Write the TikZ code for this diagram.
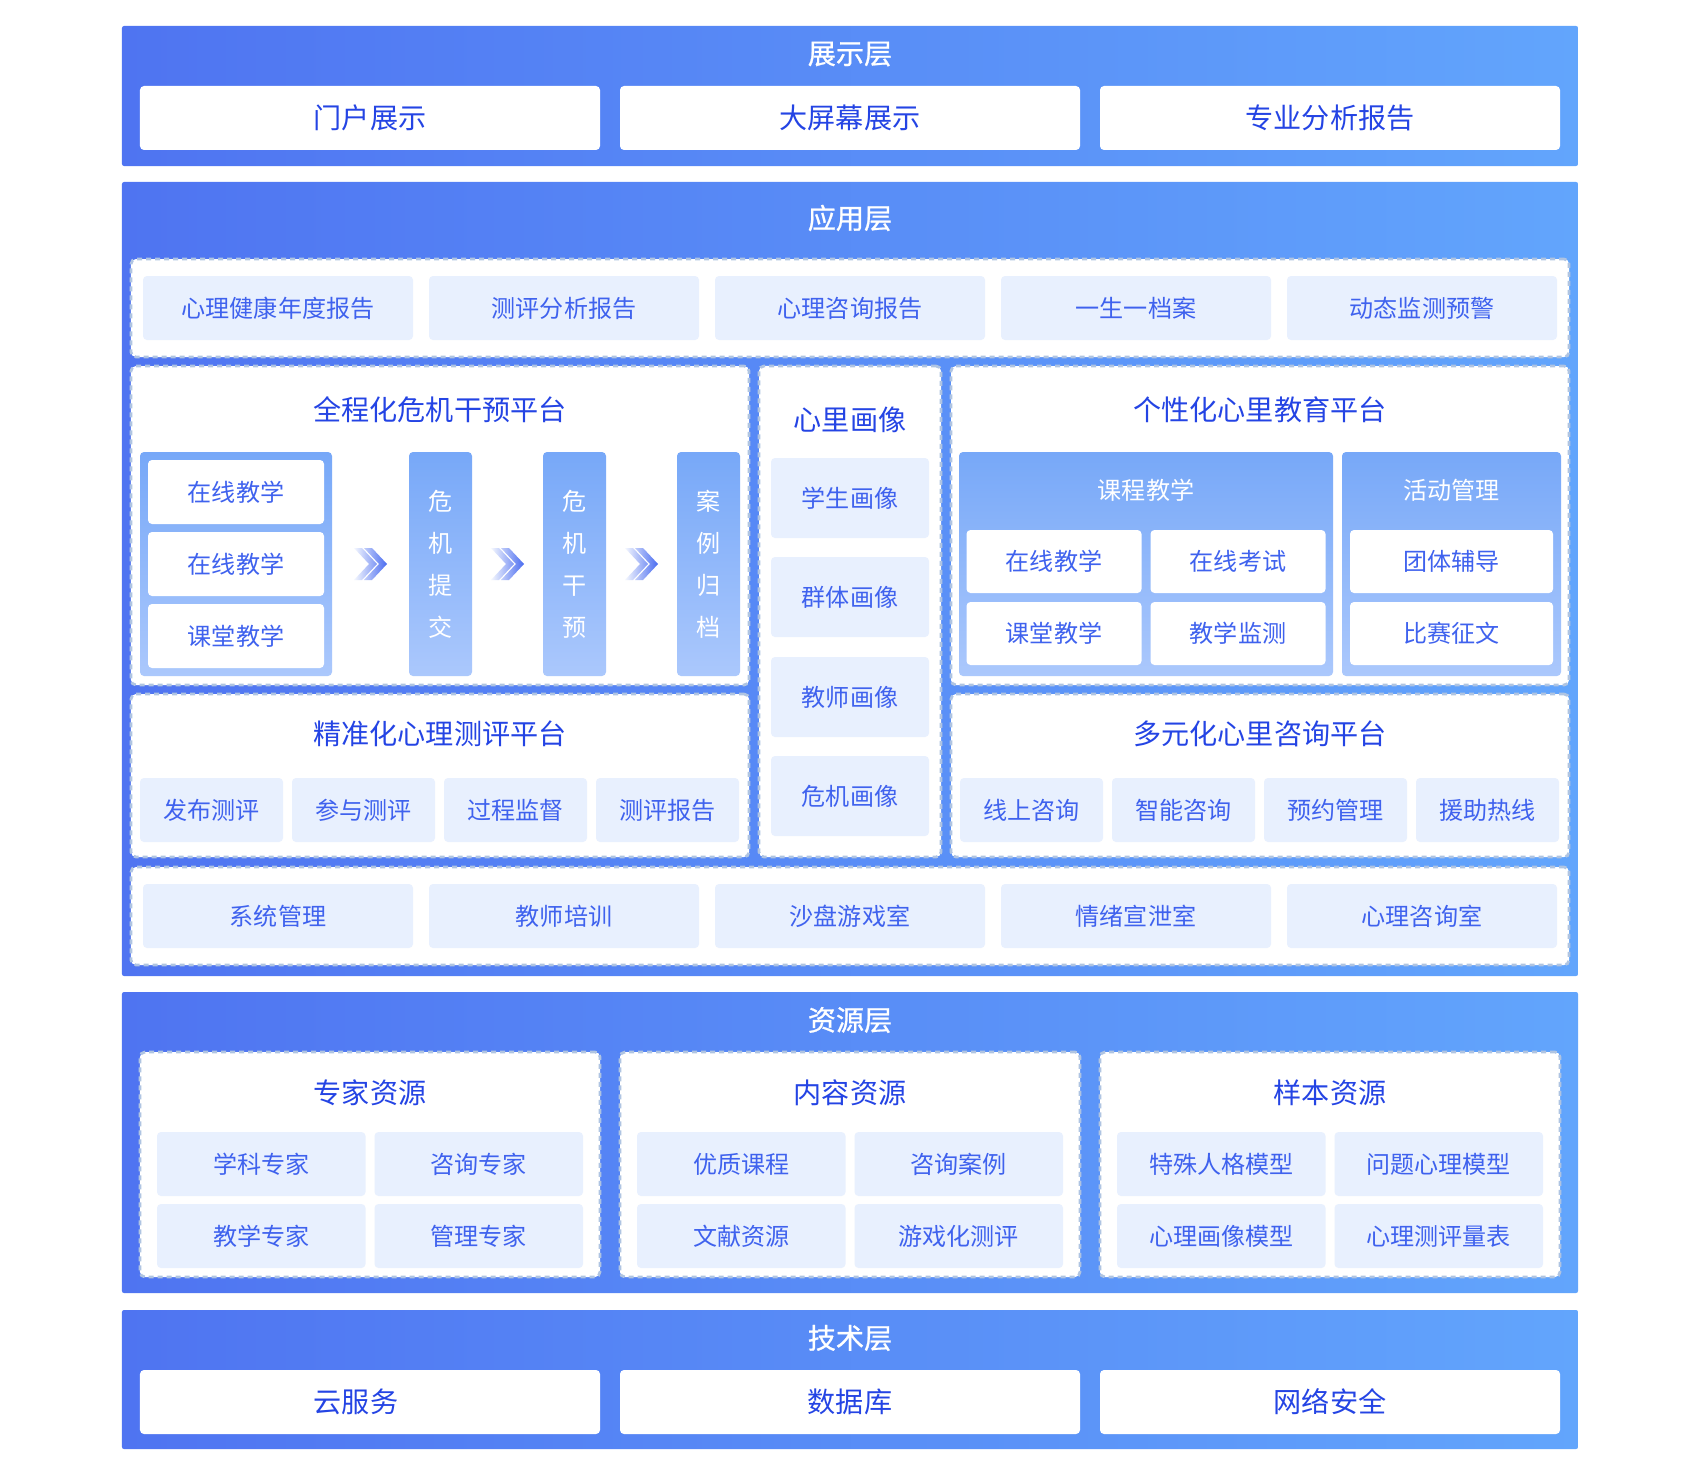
\documentclass[tikz,border=0pt]{standalone}
\usepackage{fontspec}
\setmainfont{Noto Sans CJK SC}
\newfontfamily\layerface[FakeBold=0.8]{Noto Sans CJK SC}
\usetikzlibrary{calc}

\definecolor{bandL}{HTML}{4F74F1}
\definecolor{bandR}{HTML}{62A5FC}
\definecolor{deepBlue}{HTML}{2444E4}
\definecolor{softBlue}{HTML}{3F62EE}
\definecolor{lightFill}{HTML}{E8F0FE}
\definecolor{dashC}{HTML}{AFC4E2}
\definecolor{panelT}{HTML}{77A8F8}
\definecolor{panelB}{HTML}{ABC8FC}
\definecolor{chevL}{HTML}{F4F7FE}
\definecolor{chevR}{HTML}{4A6CF0}

\newcommand\layerfont{\fontsize{16pt}{19pt}\selectfont}
\newcommand\boxfont{\fontsize{13.7pt}{16pt}\selectfont}

\tikzset{
    band/.style={left color=bandL, right color=bandR, rounded corners=0.4mm, inner sep=0pt},
    bandtitle/.style={text=white, font=\layerface\layerfont, inner sep=0pt},
    whitebox/.style={fill=white, rounded corners=0.8mm, text=deepBlue, font=\layerfont, inner sep=0pt},
    dashbox/.style={fill=white, draw=dashC, line width=0.55mm, dash pattern=on 1mm off 0.8mm, rounded corners=1mm, inner sep=0pt},
    lightbox/.style={fill=lightFill, rounded corners=0.8mm, text=softBlue, font=\boxfont, inner sep=0pt},
    panelbox/.style={top color=panelT, bottom color=panelB, rounded corners=0.8mm, inner sep=0pt},
    itembox/.style={fill=white, rounded corners=0.8mm, text=softBlue, font=\boxfont, inner sep=0pt},
    coltext/.style={panelbox, text=white, align=center, font=\fontsize{13.7pt}{23.9pt}\selectfont},
    paneltitle/.style={text=white, font=\boxfont, inner sep=0pt},
    boxtitle/.style={text=deepBlue, font=\layerfont, inner sep=0pt},
}

% two chevrons centred on a named coordinate
\newcommand\chevrons[1]{%
    \shade[left color=chevL, right color=chevR]
        ($(#1)+(-16.5,-16)$) -- ++(8,0) -- ++(15,16) -- ++(-15,16) -- ++(-8,0) -- ++(15,-16) -- cycle
        ($(#1)+(-6.5,-16)$) -- ++(8,0) -- ++(15,16) -- ++(-15,16) -- ++(-8,0) -- ++(15,-16) -- cycle;}

\begin{document}
\begin{tikzpicture}[x=0.2mm, y=-0.2mm]
    \useasboundingbox (0,0) rectangle (1700,1480);

    % 展示层
    \node[band, minimum width=291.2mm, minimum height=28mm] (zsc) at (850,96) {};
    \node[bandtitle] (zsct) at (850,54) {展示层};
    \node[whitebox, minimum width=92mm, minimum height=12.8mm] (mhzs) at (370,118) {门户展示};
    \node[whitebox, minimum width=92mm, minimum height=12.8mm] (dpzs) at (850,118) {大屏幕展示};
    \node[whitebox, minimum width=92mm, minimum height=12.8mm] (fxbg) at (1330,118) {专业分析报告};

    % 应用层
    \node[band, minimum width=291.2mm, minimum height=158.8mm] (yyc) at (850,579) {};
    \node[bandtitle] (yyct) at (850,218) {应用层};

    \node[dashbox, minimum width=287.6mm, minimum height=19.6mm] (row1) at (850,308) {};
    \node[lightbox, minimum width=54mm, minimum height=12.8mm] (ndbg) at (278,308) {心理健康年度报告};
    \node[lightbox, minimum width=54mm, minimum height=12.8mm] (cpbg) at (564,308) {测评分析报告};
    \node[lightbox, minimum width=54mm, minimum height=12.8mm] (zxbg) at (850,308) {心理咨询报告};
    \node[lightbox, minimum width=54mm, minimum height=12.8mm] (ysyd) at (1136,308) {一生一档案};
    \node[lightbox, minimum width=54mm, minimum height=12.8mm] (dtjc) at (1422,308) {动态监测预警};

    % 全程化危机干预平台
    \node[dashbox, minimum width=123.6mm, minimum height=63.8mm] (wjpt) at (440,525.5) {};
    \node[boxtitle] (wjptt) at (440,410) {全程化危机干预平台};
    \node[panelbox, minimum width=38.4mm, minimum height=44.8mm] (lpanel) at (236,564) {};
    \node[itembox, minimum width=35.2mm, minimum height=12.8mm] (zxjx1) at (236,492) {在线教学};
    \node[itembox, minimum width=35.2mm, minimum height=12.8mm] (zxjx2) at (236,564) {在线教学};
    \node[itembox, minimum width=35.2mm, minimum height=12.8mm] (ktjx1) at (236,636) {课堂教学};
    \node[coltext, minimum width=12.6mm, minimum height=44.8mm] (wjtj) at (440.5,564) {危\\机\\提\\交};
    \node[coltext, minimum width=12.6mm, minimum height=44.8mm] (wjgy) at (574.5,564) {危\\机\\干\\预};
    \node[coltext, minimum width=12.6mm, minimum height=44.8mm] (algd) at (708.5,564) {案\\例\\归\\档};
    \coordinate (ch1) at ($(lpanel.east)!0.5!(wjtj.west)$);
    \coordinate (ch2) at ($(wjtj.east)!0.5!(wjgy.west)$);
    \coordinate (ch3) at ($(wjgy.east)!0.5!(algd.west)$);
    \chevrons{ch1}
    \chevrons{ch2}
    \chevrons{ch3}

    % 心里画像
    \node[dashbox, minimum width=36.4mm, minimum height=98.2mm] (hx) at (850,611.5) {};
    \node[boxtitle] (hxt) at (850,420) {心里画像};
    \node[lightbox, minimum width=31.6mm, minimum height=16mm] (xshx) at (850,498) {学生画像};
    \node[lightbox, minimum width=31.6mm, minimum height=16mm] (qthx) at (850,597) {群体画像};
    \node[lightbox, minimum width=31.6mm, minimum height=16mm] (jshx) at (850,697) {教师画像};
    \node[lightbox, minimum width=31.6mm, minimum height=16mm] (wjhx) at (850,796) {危机画像};

    % 个性化心里教育平台
    \node[dashbox, minimum width=123.6mm, minimum height=63.8mm] (jypt) at (1260,525.5) {};
    \node[boxtitle] (jyptt) at (1260,410) {个性化心里教育平台};
    \node[panelbox, minimum width=74.8mm, minimum height=44.8mm] (kcjx) at (1146,564) {};
    \node[paneltitle] (kcjxt) at (1146,490) {课程教学};
    \node[itembox, minimum width=35mm, minimum height=12.6mm] (zxjx3) at (1054,561.5) {在线教学};
    \node[itembox, minimum width=35mm, minimum height=12.6mm] (zxks) at (1238,561.5) {在线考试};
    \node[itembox, minimum width=35mm, minimum height=12.6mm] (ktjx2) at (1054,633.5) {课堂教学};
    \node[itembox, minimum width=35mm, minimum height=12.6mm] (jxjc) at (1238,633.5) {教学监测};
    \node[panelbox, minimum width=43.8mm, minimum height=44.8mm] (hdgl) at (1451.5,564) {};
    \node[paneltitle] (hdglt) at (1451.5,490) {活动管理};
    \node[itembox, minimum width=40.6mm, minimum height=12.6mm] (ttfd) at (1451.5,561.5) {团体辅导};
    \node[itembox, minimum width=40.6mm, minimum height=12.6mm] (bszw) at (1451.5,633.5) {比赛征文};

    % 精准化心理测评平台
    \node[dashbox, minimum width=123.6mm, minimum height=32.6mm] (cppt) at (440,775.5) {};
    \node[boxtitle] (cpptt) at (440,734) {精准化心理测评平台};
    \node[lightbox, minimum width=28.6mm, minimum height=12.8mm] (fbcp) at (211.5,810) {发布测评};
    \node[lightbox, minimum width=28.6mm, minimum height=12.8mm] (cycp) at (363.5,810) {参与测评};
    \node[lightbox, minimum width=28.6mm, minimum height=12.8mm] (gcjd) at (515.5,810) {过程监督};
    \node[lightbox, minimum width=28.6mm, minimum height=12.8mm] (cpbg2) at (667.5,810) {测评报告};

    % 多元化心里咨询平台
    \node[dashbox, minimum width=123.6mm, minimum height=32.6mm] (zxpt) at (1260,775.5) {};
    \node[boxtitle] (zxptt) at (1260,734) {多元化心里咨询平台};
    \node[lightbox, minimum width=28.6mm, minimum height=12.8mm] (xszx) at (1031.5,810) {线上咨询};
    \node[lightbox, minimum width=28.6mm, minimum height=12.8mm] (znzx) at (1183.5,810) {智能咨询};
    \node[lightbox, minimum width=28.6mm, minimum height=12.8mm] (yygl) at (1335.5,810) {预约管理};
    \node[lightbox, minimum width=28.6mm, minimum height=12.8mm] (yzrx) at (1487.5,810) {援助热线};

    \node[dashbox, minimum width=287.6mm, minimum height=19.6mm] (row4) at (850,916) {};
    \node[lightbox, minimum width=54mm, minimum height=12.8mm] (xtgl) at (278,916) {系统管理};
    \node[lightbox, minimum width=54mm, minimum height=12.8mm] (jspx) at (564,916) {教师培训};
    \node[lightbox, minimum width=54mm, minimum height=12.8mm] (spyx) at (850,916) {沙盘游戏室};
    \node[lightbox, minimum width=54mm, minimum height=12.8mm] (qxxx) at (1136,916) {情绪宣泄室};
    \node[lightbox, minimum width=54mm, minimum height=12.8mm] (zxs) at (1422,916) {心理咨询室};

    % 资源层
    \node[band, minimum width=291.2mm, minimum height=60.2mm] (zyc) at (850,1142.5) {};
    \node[bandtitle] (zyct) at (850,1020) {资源层};

    \node[dashbox, minimum width=92mm, minimum height=45mm] (zjzy) at (370,1164.5) {};
    \node[boxtitle] (zjzyt) at (370,1092.5) {专家资源};
    \node[lightbox, minimum width=41.7mm, minimum height=12.8mm] (xkzj) at (261.25,1164) {学科专家};
    \node[lightbox, minimum width=41.7mm, minimum height=12.8mm] (zxzj) at (478.75,1164) {咨询专家};
    \node[lightbox, minimum width=41.7mm, minimum height=12.8mm] (jxzj) at (261.25,1236) {教学专家};
    \node[lightbox, minimum width=41.7mm, minimum height=12.8mm] (glzj) at (478.75,1236) {管理专家};

    \node[dashbox, minimum width=92mm, minimum height=45mm] (nrzy) at (850,1164.5) {};
    \node[boxtitle] (nrzyt) at (850,1092.5) {内容资源};
    \node[lightbox, minimum width=41.7mm, minimum height=12.8mm] (yzkc) at (741.25,1164) {优质课程};
    \node[lightbox, minimum width=41.7mm, minimum height=12.8mm] (zxal) at (958.75,1164) {咨询案例};
    \node[lightbox, minimum width=41.7mm, minimum height=12.8mm] (wxzy) at (741.25,1236) {文献资源};
    \node[lightbox, minimum width=41.7mm, minimum height=12.8mm] (yxcp) at (958.75,1236) {游戏化测评};

    \node[dashbox, minimum width=92mm, minimum height=45mm] (ybzy) at (1330,1164.5) {};
    \node[boxtitle] (ybzyt) at (1330,1092.5) {样本资源};
    \node[lightbox, minimum width=41.7mm, minimum height=12.8mm] (tsrg) at (1221.25,1164) {特殊人格模型};
    \node[lightbox, minimum width=41.7mm, minimum height=12.8mm] (wtxl) at (1438.75,1164) {问题心理模型};
    \node[lightbox, minimum width=41.7mm, minimum height=12.8mm] (xlhx) at (1221.25,1236) {心理画像模型};
    \node[lightbox, minimum width=41.7mm, minimum height=12.8mm] (cplb) at (1438.75,1236) {心理测评量表};

    % 技术层
    \node[band, minimum width=291.2mm, minimum height=27.8mm] (jsc) at (850,1379.5) {};
    \node[bandtitle] (jsct) at (850,1338) {技术层};
    \node[whitebox, minimum width=92mm, minimum height=12.8mm] (yfw) at (370,1402) {};
    \node[text=deepBlue, font=\layerfont, inner sep=0pt] (yfwt) at (356,1402) {云服务};
    \node[whitebox, minimum width=92mm, minimum height=12.8mm] (sjk) at (850,1402) {数据库};
    \node[whitebox, minimum width=92mm, minimum height=12.8mm] (wlaq) at (1330,1402) {网络安全};
\end{tikzpicture}
\end{document}
